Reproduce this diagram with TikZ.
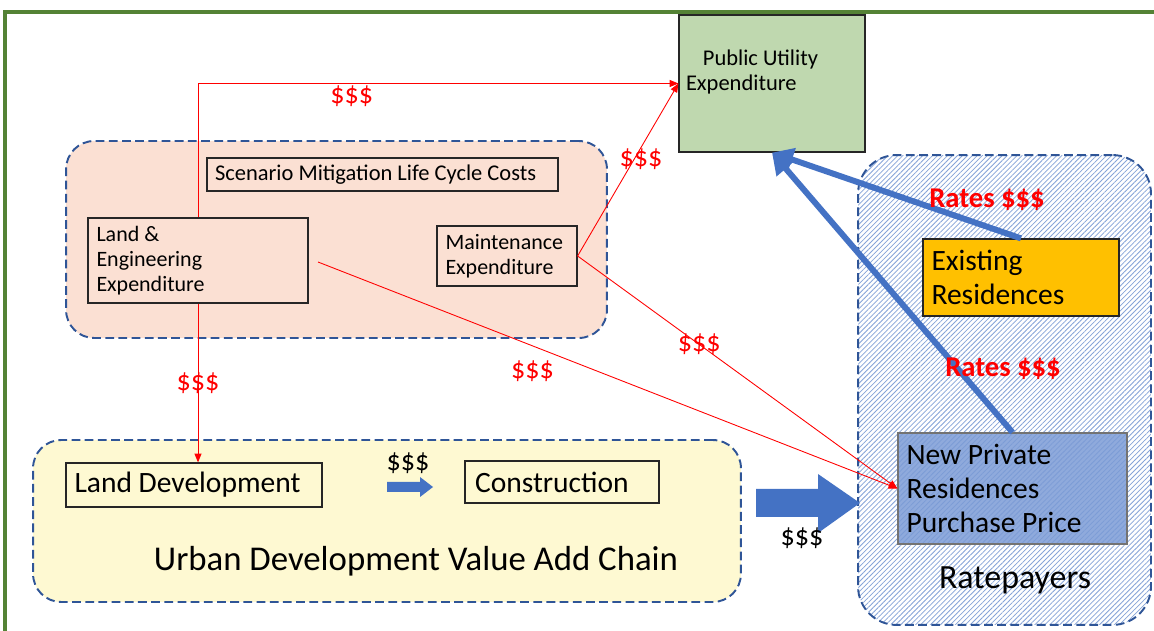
\documentclass[tikz,border=0pt]{standalone}
\usepackage{fontspec}
\setmainfont{Carlito}
\usetikzlibrary{arrows.meta, positioning, patterns.meta}

\definecolor{framegreen}{HTML}{548235}
\definecolor{grpblue}{HTML}{2F5597}
\definecolor{pubgreen}{HTML}{BFD8AF}
\definecolor{costpink}{HTML}{FBE0D3}
\definecolor{chainyellow}{HTML}{FEF9D2}
\definecolor{hatchblue}{HTML}{85A3D8}
\definecolor{existorange}{HTML}{FFC000}
\definecolor{newblue}{HTML}{8FAADC}
\definecolor{flowblue}{HTML}{4472C4}
\definecolor{costred}{HTML}{FF0000}

\begin{document}
\begin{tikzpicture}[x=0.02cm, y=-0.02cm,
    grp/.style={draw=grpblue, line width=1.1pt, dash pattern=on 5pt off 2.5pt, rounded corners=16pt, inner sep=0pt},
    box/.style={draw=black!85, line width=0.7pt, align=flush left, inner xsep=0.17cm, inner ysep=0pt},
    small/.style={font=\fontsize{12.5}{14.2}\selectfont},
    big/.style={font=\fontsize{16.8}{19}\selectfont},
    cost/.style={-{Triangle[length=5pt, width=4pt]}, draw=costred, line width=0.5pt},
    rate/.style={-{Triangle[length=12pt, width=13pt]}, draw=flowblue, line width=3.4pt},
    dollar/.style={text=costred, font=\fontsize{16}{19}\selectfont, inner sep=1pt},
    cash/.style={font=\fontsize{16}{19}\selectfont, inner sep=1pt},
    rates/.style={text=costred, font=\fontsize{16.3}{19}\selectfont\bfseries, inner sep=1pt},
  ]
  \useasboundingbox (0,0) rectangle (1154,631);

  % frame
  \draw[framegreen, line width=2.4pt] (5,631) -- (5,12) -- (1154,12);

  % groups
  \node[grp, fill=costpink, minimum width=10.82cm, minimum height=3.94cm] (costgrp) at (336.5,239.5) {};
  \node[grp, fill=chainyellow, minimum width=14.16cm, minimum height=3.24cm] (chaingrp) at (387,521) {};
  \node[grp, rounded corners=22pt, preaction={fill=white}, pattern={Lines[angle=45, distance=2pt, line width=0.45pt]}, pattern color=hatchblue,
        minimum width=5.86cm, minimum height=9.40cm] (rategrp) at (1004.5,390) {};

  % boxes
  \node[draw=black!85, line width=0.7pt, fill=pubgreen, font=\fontsize{12.8}{14.2}\selectfont, minimum width=3.72cm, minimum height=2.74cm, inner sep=0pt]
        (pub) at (772,83.5) {\parbox[c][2.74cm][t]{3.44cm}{\raggedright\vspace*{0.70cm}\hspace*{0.75em}Public Utility\\Expenditure}};
  \node[box, font=\fontsize{12.8}{14.2}\selectfont, minimum width=7.02cm, minimum height=0.66cm, text width=6.70cm, inner xsep=0.16cm]
        (scen) at (382.5,174.5) {Scenario Mitigation Life Cycle Costs};
  \node[box, small, minimum width=4.40cm, minimum height=1.70cm, text width=4.06cm] (landeng) at (198,260.5) {Land \&\\Engineering\\Expenditure};
  \node[box, small, minimum width=2.80cm, minimum height=1.20cm, text width=2.46cm] (maint) at (507,256) {Maintenance\\Expenditure};
  \node[box, big, minimum width=5.12cm, minimum height=0.88cm, text width=4.78cm] (landdev) at (194,485) {Land Development};
  \node[box, big, minimum width=3.88cm, minimum height=0.84cm, text width=3.48cm, inner xsep=0.2cm] (constr) at (562,482) {Construction};
  \node[box, big, fill=existorange, minimum width=3.92cm, minimum height=1.54cm, text width=3.58cm] (exist) at (1021,277.5) {Existing\\Residences};
  \node[box, font=\fontsize{16.8}{19.3}\selectfont, draw=black!55, preaction={fill=newblue}, pattern={Lines[angle=45, distance=2pt, line width=0.45pt]},
        pattern color=flowblue!70, minimum width=4.58cm, minimum height=2.22cm, text width=4.24cm] (newpr) at (1012.5,488.5) {New Private\\Residences\\Purchase Price};

  % texts
  \node[font=\fontsize{19.8}{23}\selectfont] (urban) at (416,561) {Urban Development Value Add Chain};
  \node[font=\fontsize{19.3}{23}\selectfont] (ratelbl) at (1015,580) {Ratepayers};

  % block arrows
  \fill[flowblue] (387,482) -- (420,482) -- (420,477) -- (433,487) -- (420,497) -- (420,492) -- (387,492) -- cycle;
  \fill[flowblue] (756,489) -- (818,489) -- (818,474) -- (860,503) -- (818,533) -- (818,517) -- (756,517) -- cycle;
  \node[cash] (cash1) at (408,463) {\$\$\$};
  \node[cash] (cash2) at (802,538) {\$\$\$};

  % red money flows
  \coordinate (engout) at (318,262);
  \draw[cost] (landeng.north) |- node[dollar, below, pos=0.66] {\$\$\$} (pub.west);
  \draw[cost] (maint.east) -- node[dollar, pos=0.56, xshift=4pt] {\$\$\$} (pub.west);
  \draw[cost] (maint.east) -- node[dollar, pos=0.38] {\$\$\$} (newpr.west);
  \draw[cost] (engout) -- node[dollar, below=7pt, pos=0.37] {\$\$\$} (newpr.west);
  \draw[cost] (landeng.south) -- node[dollar, pos=0.5] {\$\$\$} (landeng.south |- landdev.north);

  % rates
  \draw[rate] (exist.north) -- (pub.south);
  \draw[rate] (newpr.north) -- (pub.south);
  \node[rates] (rates1) at (987,200) {Rates \$\$\$};
  \node[rates] (rates2) at (1003,369) {Rates \$\$\$};
\end{tikzpicture}
\end{document}
